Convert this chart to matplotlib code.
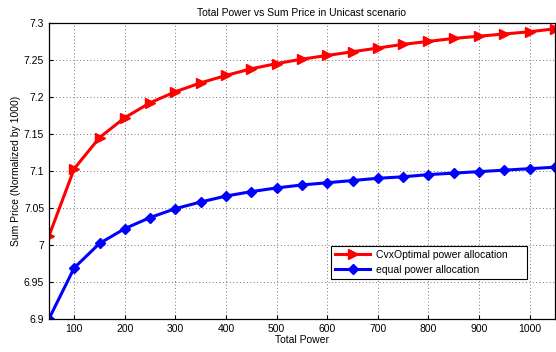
import numpy as np
import matplotlib
matplotlib.use('Agg')
import matplotlib.pyplot as plt

plt.rcParams['font.family'] = ['Liberation Sans', 'DejaVu Sans']

power = [50, 100, 150, 200, 250, 300, 350, 400, 450, 500, 550,
         600, 650, 700, 750, 800, 850, 900, 950, 1000, 1050]
cvx_price = [7.012, 7.103, 7.145, 7.172, 7.192, 7.207, 7.219, 7.229, 7.238, 7.245, 7.251,
             7.256, 7.261, 7.266, 7.271, 7.275, 7.279, 7.282, 7.285, 7.288, 7.292]
equal_price = [6.900, 6.969, 7.002, 7.022, 7.037, 7.049, 7.058, 7.066, 7.072, 7.077, 7.081,
               7.084, 7.087, 7.090, 7.092, 7.095, 7.097, 7.099, 7.101, 7.103, 7.105]

fig = plt.figure(figsize=(5.56, 3.52), dpi=100)
ax = fig.add_axes([0.088, 0.094, 0.910, 0.841])

ax.plot(power, cvx_price, color='r', lw=2.2, marker='>', ms=7, label='CvxOptimal power allocation')
ax.plot(power, equal_price, color='b', lw=2.2, marker='D', ms=5.5, label='equal power allocation')

ax.set_xlim(50, 1050)
ax.set_ylim(6.9, 7.3)
ax.set_xticks(np.arange(100, 1001, 100))
ax.set_yticks([6.9, 6.95, 7.0, 7.05, 7.1, 7.15, 7.2, 7.25, 7.3])
ax.set_yticklabels(['6.9', '6.95', '7', '7.05', '7.1', '7.15', '7.2', '7.25', '7.3'])
ax.tick_params(labelsize=7.5, direction='in', length=3)
ax.grid(True, linestyle=(0, (1, 2.5)), color='0.45', lw=0.7)
for s in ax.spines.values():
    s.set_linewidth(0.9)

ax.set_xlabel('Total Power', fontsize=7.5, labelpad=1)
ax.set_ylabel('Sum Price (Normalized by 1000)', fontsize=7.5, labelpad=2)
ax.set_title('Total Power vs Sum Price in Unicast scenario', fontsize=7.5, pad=5)

# legend box stretched to the width seen in the original
leg = ax.legend(loc='lower left', bbox_to_anchor=(0.557, 0.135, 0.388, 0.11), mode='expand',
                fontsize=7.5, fancybox=False, framealpha=1, edgecolor='k', borderpad=0.4,
                handlelength=3.4, handletextpad=0.5, borderaxespad=0, labelspacing=0.45)
leg.get_frame().set_linewidth(0.8)

fig.savefig('out.png', dpi=100)
